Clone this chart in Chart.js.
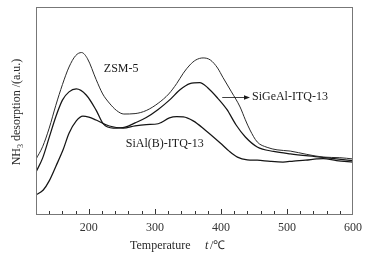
<!DOCTYPE html>
<html><head><meta charset="utf-8">
<script src="https://cdn.jsdelivr.net/npm/chart.js@4.4.1/dist/chart.umd.min.js"></script>
<style>html,body{margin:0;padding:0;background:#fff;}#wrap{width:374px;height:255px;}</style>
</head><body><div id="wrap"><canvas id="c" width="374" height="255"></canvas></div>
<script>
const xMin = 120, xMax = 600;
const xTickLabels = [200, 300, 400, 500, 600];
const zsm5 = [[120,26.5],[130,32.5],[140,41.5],[150,52.5],[160,62.5],[170,71],[180,76.5],[189,78],[198,75],[211,65],[221,58],[231,53.6],[242,50],[253,48.3],[270,48.5],[287,50],[305,53.5],[321,58],[333,63],[343,68],[353,72],[362,74.4],[373,75.4],[384,74.4],[395,70.5],[403,66],[416,59],[429,51.7],[437,45.5],[444,40.6],[455,34.8],[470,32.2],[485,31],[505,30.4],[530,28.8],[555,27.5],[580,27.2],[600,26.6]];
const sigeal = [[120,20.3],[130,27],[140,37],[150,47],[160,55],[170,59],[181,60.4],[196,57.5],[211,50.2],[222,43.5],[237,41.5],[255,42],[270,44],[287,46.6],[305,50.5],[322,55],[338,60],[353,63],[368,63.5],[380,61],[395,56],[409,50.5],[423,43],[437,37.2],[455,32.4],[480,30.2],[505,29],[550,27.5],[575,26.6],[600,25.8]];
const sialb = [[120,9.2],[131,11.6],[140,16],[150,23],[161,31],[170,39],[181,45],[191,47.3],[200,46.8],[211,45.4],[231,42.5],[252,41.5],[270,42.6],[287,43.2],[305,43.6],[322,46.4],[333,47],[343,46.9],[358,45],[376,40.6],[399,34.3],[412,30.5],[425,27.5],[440,26.2],[455,26],[475,25.4],[494,25.1],[510,25.6],[528,26],[545,26.6],[555,26.8],[575,25.8],[600,25.1]];
const seriesNames = ['ZSM-5', 'SiGeAl-ITQ-13', 'SiAl(B)-ITQ-13'];
const toPts = a => a.map(p => ({x: p[0], y: p[1]}));

const serif = '"Liberation Serif", "Times New Roman", serif';

const decor = {
  id: 'decor',
  afterDraw(chart) {
    const {ctx, chartArea: a, scales: {x, y}} = chart;
    ctx.save();
    ctx.strokeStyle = '#777';
    ctx.lineWidth = 1;
    ctx.strokeRect(a.left + 0.5, a.top + 0.5, a.right - a.left - 1, a.bottom - a.top);
    ctx.strokeStyle = '#333';
    for (let v = xMin + 20; v < xMax; v += 20) {
      const px = Math.round(x.getPixelForValue(v)) + 0.5;
      const len = (v % 100 === 0) ? 5 : 3;
      ctx.beginPath();
      ctx.moveTo(px, a.bottom);
      ctx.lineTo(px, a.bottom - len);
      ctx.stroke();
    }
    ctx.fillStyle = '#1a1a1a';
    ctx.font = '12px ' + serif;
    ctx.textBaseline = 'middle';
    ctx.textAlign = 'center';
    ctx.fillText(seriesNames[0], x.getPixelForValue(249), y.getPixelForValue(70));
    ctx.textAlign = 'left';
    ctx.fillText(seriesNames[1], x.getPixelForValue(447), y.getPixelForValue(56.5));
    ctx.fillText(seriesNames[2], x.getPixelForValue(256), y.getPixelForValue(33.8));
    const ax0 = x.getPixelForValue(402), ax1 = x.getPixelForValue(444), ay = Math.round(y.getPixelForValue(56.5)) + 0.5;
    ctx.strokeStyle = '#111';
    ctx.lineWidth = 0.8;
    ctx.beginPath(); ctx.moveTo(ax0, ay); ctx.lineTo(ax1 - 4, ay); ctx.stroke();
    ctx.beginPath(); ctx.moveTo(ax1, ay); ctx.lineTo(ax1 - 6, ay - 2.2); ctx.lineTo(ax1 - 6, ay + 2.2); ctx.closePath(); ctx.fill();
    ctx.fillStyle = '#2a2a2a';
    ctx.font = '12px ' + serif;
    ctx.textAlign = 'left';
    ctx.textBaseline = 'middle';
    ctx.fillText('Temperature', 130, 246);
    ctx.font = 'italic 12px ' + serif;
    ctx.fillText('t', 205, 246);
    ctx.font = '12px ' + serif;
    ctx.fillText('/\u2103', 210, 246);
    ctx.translate(17, 112);
    ctx.rotate(-Math.PI / 2);
    const t1 = 'NH', t3 = ' desorption /(a.u.)';
    ctx.font = '8px ' + serif;
    const w2 = ctx.measureText('3').width;
    ctx.font = '12px ' + serif;
    const w1 = ctx.measureText(t1).width, w3 = ctx.measureText(t3).width;
    let sx = -(w1 + w2 + w3) / 2;
    ctx.textAlign = 'left';
    ctx.fillText(t1, sx, 0); sx += w1;
    ctx.font = '8px ' + serif;
    ctx.fillText('3', sx, 4); sx += w2;
    ctx.font = '12px ' + serif;
    ctx.fillText(t3, sx, 0);
    ctx.restore();
  }
};

new Chart(document.getElementById('c'), {
  type: 'line',
  data: {
    datasets: [
      {label: seriesNames[0], data: toPts(zsm5), borderColor: '#2a2a2a', borderWidth: 1, pointRadius: 0, cubicInterpolationMode: 'monotone', fill: false},
      {label: seriesNames[1], data: toPts(sigeal), borderColor: '#151515', borderWidth: 1.25, pointRadius: 0, cubicInterpolationMode: 'monotone', fill: false},
      {label: seriesNames[2], data: toPts(sialb), borderColor: '#151515', borderWidth: 1.25, pointRadius: 0, cubicInterpolationMode: 'monotone', fill: false}
    ]
  },
  options: {
    responsive: false,
    animation: false,
    devicePixelRatio: 1,
    layout: {padding: {top: 7, right: 21, left: 36, bottom: 0}},
    plugins: {legend: {display: false}, tooltip: {enabled: false}},
    scales: {
      x: {
        type: 'linear', min: xMin, max: xMax,
        grid: {drawOnChartArea: false, drawTicks: false},
        border: {display: false},
        ticks: {
          stepSize: 100,
          padding: 7,
          color: '#333',
          font: {family: serif, size: 12},
          maxRotation: 0,
          callback: v => xTickLabels.includes(v) ? String(v) : ''
        },
        afterBuildTicks: s => { s.ticks = xTickLabels.map(v => ({value: v})); },
        afterFit: s => { s.height = 41; }
      },
      y: {display: false, min: 0, max: 100}
    }
  },
  plugins: [decor]
});
</script></body></html>
